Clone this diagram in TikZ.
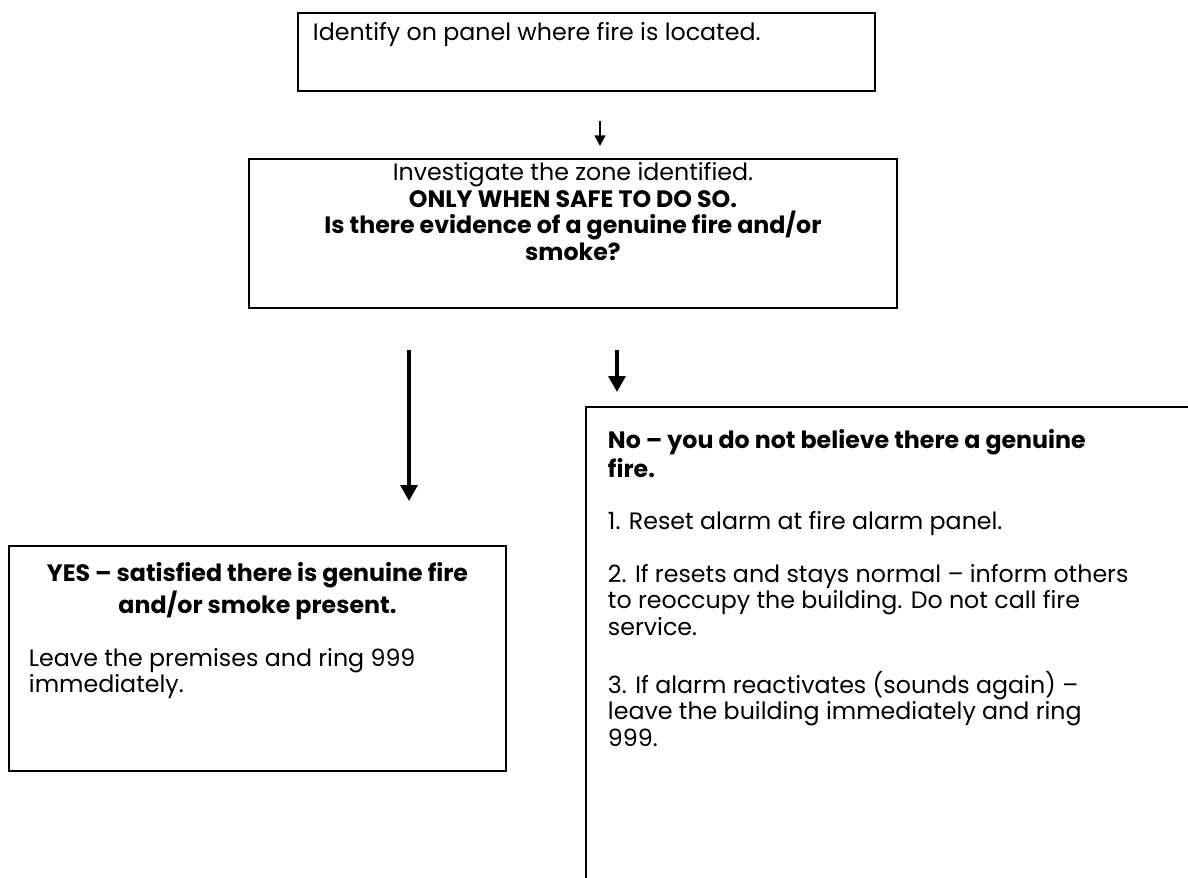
\documentclass[tikz,border=0pt]{standalone}
\usepackage{fontspec}
\setmainfont{Poppins}
\usetikzlibrary{arrows.meta}

% 1 unit = one pixel of the reference
\newdimen\pxu \pxu=0.02cm
\newcommand{\boxbody}[4]{\parbox[t][#2\pxu][t]{#1\pxu}{\raggedright
  \vspace*{\dimexpr #3\pxu-\ht\strutbox\relax}\strut #4}}
\newcommand{\gapline}{\par\strut\par}

\tikzset{
  flowbox/.style={draw, line width=1.1pt, anchor=north west, inner ysep=0pt,
    inner xsep=#1, font=\fontsize{13.5}{15}\selectfont},
  downarrow/.style={line width=#1, -{Triangle[width=9.5pt,length=9pt]}},
}

\begin{document}
\begin{tikzpicture}[x=0.02cm, y=-0.02cm]
    \clip (0,0) rectangle (1188,877);

    % boxes
    \node[flowbox=0.3cm] (locate) at (297,12)
        {\boxbody{547}{78}{28}{Identify on panel where fire is located.}};
    \node[flowbox=0.1cm] (investigate) at (248,158)
        {\boxbody{638}{149}{22}{{\centering Investigate the zone identified.\\
        \textbf{ONLY WHEN SAFE TO DO SO.}\\
        \textbf{Is there evidence of a genuine fire and/or}\\
        \textbf{smoke?}\par}}};
    \node[flowbox=0.4cm] (yes) at (8,545)
        {\boxbody{457}{225}{35}{{\centering\bfseries YES – satisfied there is genuine fire\\
        and/or smoke present.\par}\gapline
        Leave the premises and ring 999\\ immediately.}};
    \node[flowbox=0.44cm] (no) at (585,406)
        {\boxbody{656}{600}{41}{\textbf{No – you do not believe there a genuine\\ fire.}\gapline
        1. Reset alarm at fire alarm panel.\gapline
        2. If resets and stays normal – inform others\\
        to reoccupy the building. Do not call fire\\ service.\gapline
        3. If alarm reactivates (sounds again) –\\
        leave the building immediately and ring\\ 999.}};

    % arrows
    \coordinate (a1s) at (600,121);
    \coordinate (a1e) at (600,146);
    \coordinate (a2s) at (409,350);
    \coordinate (a2e) at (409,501);
    \coordinate (a3s) at (617,350);
    \coordinate (a3e) at (617,392);
    \draw[downarrow=1.2pt, -{Triangle[width=6pt,length=6pt]}] (a1s) -- (a1e);
    \draw[downarrow=1.9pt] (a2s) -- (a2e);
    \draw[downarrow=1.9pt] (a3s) -- (a3e);
\end{tikzpicture}
\end{document}
